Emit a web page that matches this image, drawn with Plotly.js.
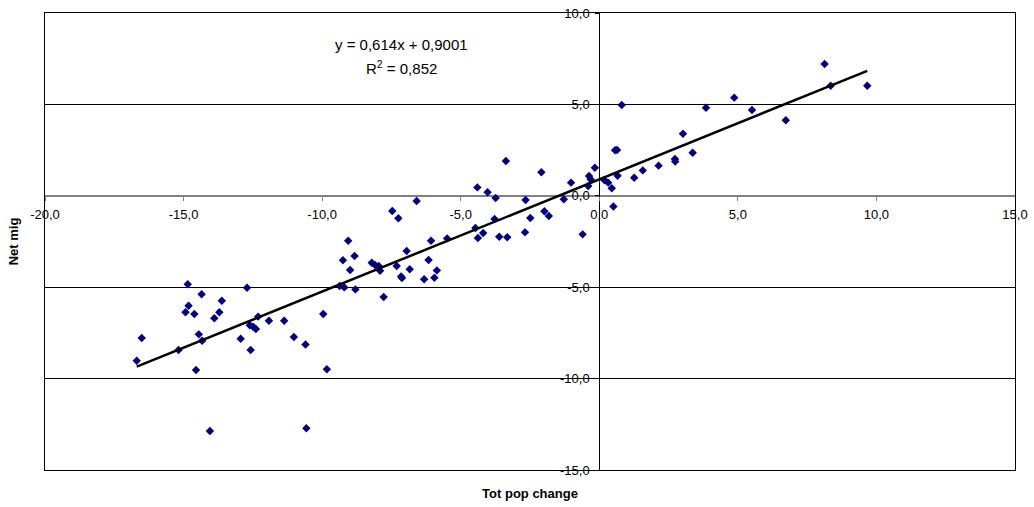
<!DOCTYPE html>
<html>
<head>
<meta charset="utf-8">
<script src="https://cdn.plot.ly/plotly-3.0.1.min.js"></script>
<style>
  html, body { margin: 0; padding: 0; background: #ffffff; }
  #chart { width: 1034px; height: 507px; }
</style>
</head>
<body>
<div id="chart"></div>
<script>
// Total population change (x) against net migration (y), one point per area
const totPopChange = [
  -14.85, -12.71, -14.35, -14.82, -13.62, -14.93, -14.61, -13.71, -13.89, -12.31,
  -11.92, -11.37, -12.61, -12.49, -12.39, -16.51, -14.45, -14.33, -12.94, -11.02,
  -10.60, -15.18, -12.58, -16.69, -14.55, -14.05, -10.57, -9.83, -9.96,
  -6.59, -7.47, -7.25, -9.06, -9.25, -8.83, -8.99, -6.95, -6.07, -5.49,
  -6.16, -8.21, -8.09, -7.96, -7.91, -7.31, -6.84, -5.86, -7.15, -7.12,
  -6.32, -5.95, -9.37, -9.20, -8.80, -7.78,
  -3.37, -2.09, -0.16, -4.40, -4.03, -3.74, -1.02, -0.37, -0.31, -0.40,
  -1.28, -2.66, -3.78, -2.49, -1.98, -1.82, -4.47, -4.38, -4.19, -3.61,
  -3.32, -2.68, -0.60,
  0.18, 0.32, 0.45, 0.51, 0.57, 0.64, 0.66, 0.81, 1.26, 1.57,
  2.14, 2.73, 2.74, 3.02, 3.37, 3.85, 4.87, 5.51, 6.73, 8.13,
  8.35, 9.67
];
const netMig = [
  -4.84, -5.03, -5.39, -6.01, -5.74, -6.37, -6.47, -6.37, -6.70, -6.61,
  -6.83, -6.83, -7.08, -7.16, -7.29, -7.78, -7.58, -7.93, -7.82, -7.72,
  -8.14, -8.44, -8.44, -9.02, -9.53, -12.87, -12.72, -9.49, -6.47,
  -0.28, -0.83, -1.23, -2.46, -3.53, -3.29, -4.06, -3.02, -2.46, -2.33,
  -3.51, -3.66, -3.79, -3.84, -4.10, -3.84, -4.02, -4.08, -4.42, -4.50,
  -4.57, -4.48, -4.93, -5.01, -5.12, -5.54,
  1.90, 1.29, 1.54, 0.46, 0.19, -0.12, 0.72, 1.08, 0.90, 0.54,
  -0.19, -0.23, -1.27, -1.21, -0.85, -1.11, -1.76, -2.31, -2.04, -2.24,
  -2.27, -2.00, -2.11,
  0.86, 0.72, 0.41, -0.59, 2.49, 2.51, 1.10, 4.97, 0.99, 1.39,
  1.65, 2.01, 1.87, 3.40, 2.36, 4.82, 5.37, 4.69, 4.13, 7.21,
  6.02, 6.02
];

// Linear trend as stated on the chart
const trendSlope = 0.614;
const trendIntercept = 0.9001;
const equationText = 'y = 0,614x + 0,9001';
const rSquaredText = 'R<sup>2</sup> = 0,852';

// Axis extents, ticks and their labels
const xRange = [-20, 15];
const yRange = [-15, 10];
const xTickVals = [-20, -15, -10, -5, 0, 5, 10, 15];
const xTickText = ['-20,0', '-15,0', '-10,0', '-5,0', '0,0', '5,0', '10,0', '15,0'];
const yTickVals = [-15, -10, -5, 0, 5, 10];
const yTickText = ['-15,0', '-10,0', '-5,0', '0,0', '5,0', '10,0'];
const xTitle = 'Tot pop change';
const yTitle = 'Net mig';

const xMin = Math.min(...totPopChange);
const xMax = Math.max(...totPopChange);
const trendX = [xMin, xMax];
const trendY = trendX.map(v => trendSlope * v + trendIntercept);

// Fraction of the plot where the value 0 sits, so the axes cross at the origin
const xZeroFrac = (0 - yRange[0]) / (yRange[1] - yRange[0]);
const yZeroFrac = (0 - xRange[0]) / (xRange[1] - xRange[0]);

const fontFamily = '"Liberation Sans", Arial, Helvetica, sans-serif';

const traces = [
  // Empty trace that keeps the framed base subplot (grid, border, titles)
  {
    type: 'scatter', mode: 'markers',
    x: [null], y: [null],
    xaxis: 'x', yaxis: 'y',
    hoverinfo: 'skip'
  },
  {
    type: 'scatter', mode: 'markers',
    x: totPopChange, y: netMig,
    xaxis: 'x2', yaxis: 'y2',
    marker: { symbol: 'diamond', size: 6.5, color: '#000080', line: { width: 0 } },
    hoverinfo: 'x+y'
  },
  {
    type: 'scatter', mode: 'lines',
    x: trendX, y: trendY,
    xaxis: 'x2', yaxis: 'y2',
    line: { color: '#000000', width: 2.5 },
    hoverinfo: 'skip'
  }
];

const layout = {
  width: 1034, height: 507,
  margin: { l: 45, r: 19, t: 13, b: 37, pad: 0 },
  paper_bgcolor: '#ffffff',
  plot_bgcolor: '#ffffff',
  showlegend: false,
  font: { family: fontFamily, size: 12, color: '#000000' },
  // Frame, horizontal grid and titles
  xaxis: {
    range: xRange, showgrid: false, zeroline: false,
    showline: true, mirror: true, linecolor: '#000000', linewidth: 1,
    showticklabels: false, ticks: '',
    title: { text: '<b>' + xTitle + '</b>', font: { size: 13, family: fontFamily }, standoff: 18 },
    automargin: false, fixedrange: true
  },
  yaxis: {
    range: yRange, tickmode: 'array', tickvals: yTickVals,
    showgrid: true, gridcolor: '#000000', gridwidth: 1, zeroline: false,
    showline: true, mirror: true, linecolor: '#000000', linewidth: 1,
    showticklabels: false, ticks: '',
    title: { text: '<b>' + yTitle + '</b>', font: { size: 13, family: fontFamily }, standoff: 22 },
    automargin: false, fixedrange: true
  },
  // Axes crossing at the origin, carrying the tick labels
  xaxis2: {
    overlaying: 'x', anchor: 'free', position: xZeroFrac,
    range: xRange, tickmode: 'array', tickvals: xTickVals, ticktext: xTickText,
    ticks: 'outside', ticklen: 4, tickcolor: '#808080', tickwidth: 1,
    ticklabelstandoff: 3,
    showline: true, linecolor: '#808080', linewidth: 2,
    showgrid: false, zeroline: false, layer: 'below traces',
    tickfont: { size: 13, family: fontFamily, color: '#000000' },
    automargin: false, fixedrange: true
  },
  yaxis2: {
    overlaying: 'y', anchor: 'free', position: yZeroFrac, side: 'left',
    range: yRange, tickmode: 'array', tickvals: yTickVals, ticktext: yTickText,
    ticks: 'outside', ticklen: 4, tickcolor: '#000000', tickwidth: 1,
    ticklabelstandoff: 3,
    showline: true, linecolor: '#000000', linewidth: 1,
    showgrid: false, zeroline: false, layer: 'below traces',
    tickfont: { size: 13, family: fontFamily, color: '#000000' },
    automargin: false, fixedrange: true
  },
  annotations: [
    {
      xref: 'paper', yref: 'paper', x: 0.368, y: 0.930,
      text: equationText, showarrow: false,
      xanchor: 'center', yanchor: 'middle',
      font: { size: 15, family: fontFamily, color: '#000000' }
    },
    {
      xref: 'paper', yref: 'paper', x: 0.368, y: 0.880,
      text: rSquaredText, showarrow: false,
      xanchor: 'center', yanchor: 'middle',
      font: { size: 15, family: fontFamily, color: '#000000' }
    }
  ]
};

Plotly.newPlot('chart', traces, layout, { staticPlot: true, displayModeBar: false });
</script>
</body>
</html>
